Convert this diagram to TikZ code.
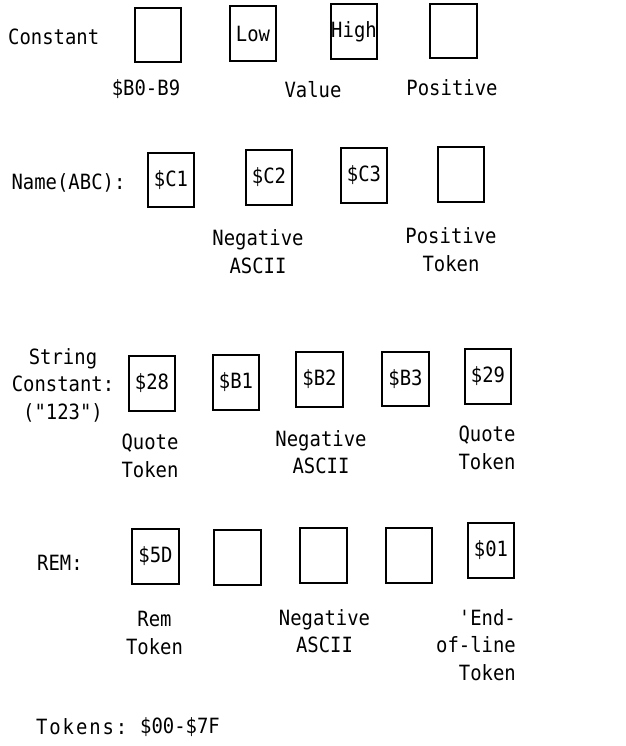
\documentclass[tikz,border=0pt]{standalone}
\usepackage{fontspec}
\setmonofont[FakeStretch=0.9]{DejaVu Sans Mono}
\tikzset{cell/.style={draw,line width=2pt,minimum width=46.5pt,minimum height=54.5pt,inner sep=0pt},
    lbl/.style={inner sep=0pt,align=center},
    lblr/.style={inner sep=0pt,align=right,anchor=east}}
\begin{document}
\begin{tikzpicture}[x=1pt,y=-1pt,font=\ttfamily\fontsize{21}{27.5}\selectfont]
      \useasboundingbox (0,0) rectangle (625,746);
      % constant
      \node[lbl,anchor=west] (constlbl) at (8,37) {Constant};
      \foreach \n/\x/\y/\t in {const1/158/35/{},const2/253/33.5/Low,const3/354/31.5/High,const4/453.5/31/{}}
      {\node[cell] (\n) at (\x,\y) {\t};}
      \node[lbl] (constbcd) at (146,89) {\$B0-B9};
      \node[lbl] (constval) at (313,90) {Value};
      \node[lbl] (constpos) at (452,88) {Positive};
      % name
      \node[lbl] (namelbl) at (68.5,183) {Name(ABC):};
      \foreach \n/\x/\y/\t in {name1/171/180/\$C1,name2/269/177.5/\$C2,name3/364/175.5/\$C3,name4/461/174.5/{}}
      {\node[cell] (\n) at (\x,\y) {\t};}
      \node[lbl] (nameneg) at (258,251.5) {Negative\\ASCII};
      \node[lbl] (namepos) at (451,249.5) {Positive\\Token};
      % string
      \node[lbl] (strlbl) at (63,385) {String\\Constant:\\("123")};
      \foreach \n/\x/\y/\t in {str1/152/383.5/\$28,str2/236/382.5/\$B1,str3/319.5/379.5/\$B2,str4/405.5/379/\$B3,str5/488/376.5/\$29}
      {\node[cell] (\n) at (\x,\y) {\t};}
      \node[lbl] (strquote) at (150,456) {Quote\\Token};
      \node[lbl] (strneg) at (321,452) {Negative\\ASCII};
      \node[lbl] (strend) at (487,448) {Quote\\Token};
      % rem
      \node[lbl] (remlbl) at (60,563) {REM:};
      \foreach \n/\x/\y/\t in {rem1/155.5/556.5/\$5D,rem2/237.5/557.5/{},rem3/323.5/555.5/{},rem4/409/555.5/{},rem5/491/550.5/\$01}
      {\node[cell] (\n) at (\x,\y) {\t};}
      \node[lbl] (remtok) at (154.5,633) {Rem\\Token};
      \node[lbl] (remneg) at (324.5,631) {Negative\\ASCII};
      \node[lblr] (remeol) at (516,645) {'End-\\of-line\\Token};
      % tokens
      \node[lbl,anchor=west,font=\ttfamily\fontsize{21}{27.5}\selectfont\addfontfeature{LetterSpace=9}] (toklbl) at (36,727) {Tokens:};
      \node[lbl,anchor=west] (tokrange) at (140,727) {\$00-\$7F};
\end{tikzpicture}
\end{document}
